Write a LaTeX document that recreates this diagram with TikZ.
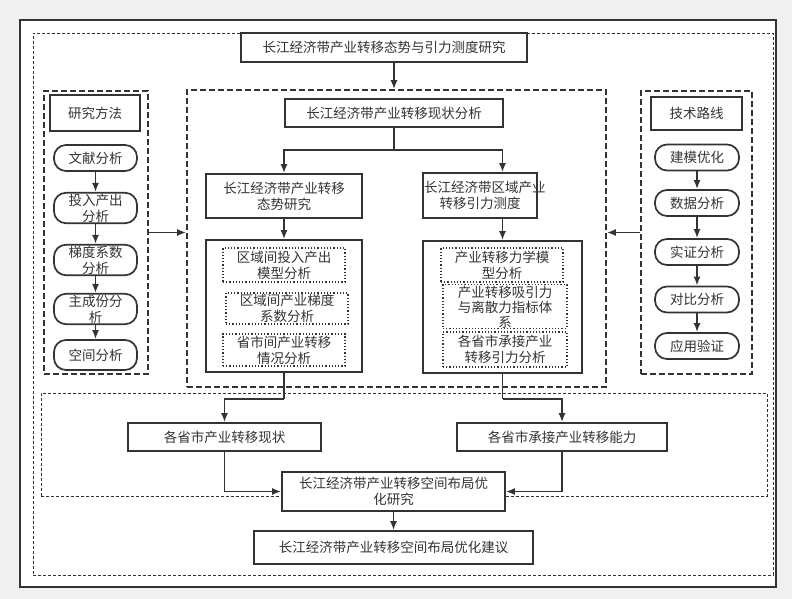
\documentclass[tikz,border=0pt]{standalone}
\usepackage{fontspec}
\setmainfont{Noto Sans CJK SC}
\usetikzlibrary{arrows.meta}
\definecolor{ln}{HTML}{333333}
\begin{document}
\begin{tikzpicture}[x=1pt,y=-1pt,
  every node/.style={font=\fontsize{13.5}{16}\selectfont, text=ln, align=center, inner sep=1pt},
  bx/.style={draw=ln, line width=1.7pt, fill=white},
  st/.style={draw=ln, line width=1.7pt, fill=white, rounded corners=12pt},
  dt/.style={draw=ln, line width=1.2pt, dotted},
  grp/.style={draw=ln, line width=1.7pt, dash pattern=on 6pt off 3pt},
  thn/.style={draw=ln, line width=0.7pt, dash pattern=on 3pt off 2pt},
  ar/.style={draw=ln, line width=1.7pt, -{Latex[length=9pt,width=7pt]}},
  ln/.style={draw=ln, line width=1.7pt}]
\fill[black!6] (0,0) rectangle (792,599);
\draw[fill=white, draw=ln, line width=1.8pt] (20,20) rectangle (776,587);
\node[thn, minimum width=740, minimum height=542] (outer) at (403,304) {};
\node[thn, minimum width=726, minimum height=103] (gB) at (404,444.5) {};
\node[grp, minimum width=104, minimum height=283] (gL) at (96,232.5) {};
\node[grp, minimum width=419, minimum height=297] (gC) at (396.5,238.5) {};
\node[grp, minimum width=111, minimum height=283] (gR) at (696.5,232.5) {};
\node[bx, minimum width=286, minimum height=29] (title) at (384,47.5) {长江经济带产业转移态势与引力测度研究};
% left
\node[bx, minimum width=90, minimum height=36] (m0) at (95,113) {研究方法};
\node[st, minimum width=83, minimum height=26] (m1) at (95.5,158) {文献分析};
\node[st, minimum width=83, minimum height=30] (m2) at (95.5,208) {投入产出\\分析};
\node[st, minimum width=83, minimum height=30] (m3) at (95.5,260) {梯度系数\\分析};
\node[st, minimum width=83, minimum height=26] (m4) at (95.5,309) {主成份分\\析};
\node[st, minimum width=83, minimum height=30] (m5) at (95.5,355) {空间分析};
\draw[ar] (m1) -- (m2); \draw[ar] (m2) -- (m3); \draw[ar] (m3) -- (m4); \draw[ar] (m4) -- (m5);
% right
\node[bx, minimum width=91, minimum height=33] (t0) at (696.5,113.5) {技术路线};
\node[st, minimum width=84, minimum height=26] (t1) at (697,157.5) {建模优化};
\node[st, minimum width=84, minimum height=26] (t2) at (697,203) {数据分析};
\node[st, minimum width=84, minimum height=26] (t3) at (697,252) {实证分析};
\node[st, minimum width=84, minimum height=26] (t4) at (697,299.5) {对比分析};
\node[st, minimum width=84, minimum height=26] (t5) at (697,346) {应用验证};
\draw[ar] (t1) -- (t2); \draw[ar] (t2) -- (t3); \draw[ar] (t3) -- (t4); \draw[ar] (t4) -- (t5);
% center
\node[bx, minimum width=218, minimum height=28] (a0) at (394,113) {长江经济带产业转移现状分析};
\node[bx, minimum width=156, minimum height=44] (a1) at (284,196) {长江经济带产业转移\\态势研究};
\node[bx, minimum width=114, minimum height=45, text width=112] (b1) at (480,195.5) {长江经济带区域产业\\转移引力测度};
\node[bx, minimum width=156, minimum height=132] (a2) at (284,306) {};
\node[bx, minimum width=159, minimum height=132] (b2) at (502.5,307) {};
\node[dt, minimum width=122, minimum height=34] (la) at (284,265) {区域间投入产出\\模型分析};
\node[dt, minimum width=122, minimum height=31] (lb) at (287,308.5) {区域间产业梯度\\系数分析};
\node[dt, minimum width=122, minimum height=32] (lc) at (284,350) {省市间产业转移\\情况分析};
\node[dt, minimum width=122, minimum height=34] (ra) at (502,265) {产业转移力学模\\型分析};
\node[dt, minimum width=124, minimum height=37, text depth=0pt] (rb) at (505,306.5) {产业转移吸引力\\[-1pt]与离散力指标体\\[-1pt]系};
\node[dt, minimum width=124, minimum height=35] (rc) at (505,349.5) {各省市承接产业\\转移引力分析};
\coordinate (j) at (394,150);
\draw[ln] (a0) -- (j);
\draw[ar] (j) -| (a1.north);
\draw[ar] (j) -| (b2.north |- b1.north);
\draw[ar] (a1) -- (a2);
\draw[ar] (b1.south -| b2.north) -- (b2.north);
\draw[ar] (a0.north |- title.south) -- (gC.north -| a0.north);
\draw[ar] (gL.east) -- (gC.west |- gL.east);
\draw[ar] (gR.west) -- (gC.east |- gR.west);
% bottom
\node[bx, minimum width=193, minimum height=28] (p1) at (224.5,437) {各省市产业转移现状};
\node[bx, minimum width=210, minimum height=28] (p2) at (562,437) {各省市承接产业转移能力};
\node[bx, minimum width=223, minimum height=39] (q) at (393.5,491.5) {长江经济带产业转移空间布局优\\化研究};
\node[bx, minimum width=279, minimum height=33] (r) at (393.5,547.5) {长江经济带产业转移空间布局优化建议};
\coordinate (k1) at (284,399);
\coordinate (k2) at (502.5,399);
\draw[ln] (a2) -- (k1); \draw[ar] (k1) -| (p1.north);
\draw[ln] (b2) -- (k2); \draw[ar] (k2) -| (p2.north);
\draw[ar] (p1) |- (q);
\draw[ar] (p2) |- (q);
\draw[ar] (q) -- (r);
\end{tikzpicture}
\end{document}
